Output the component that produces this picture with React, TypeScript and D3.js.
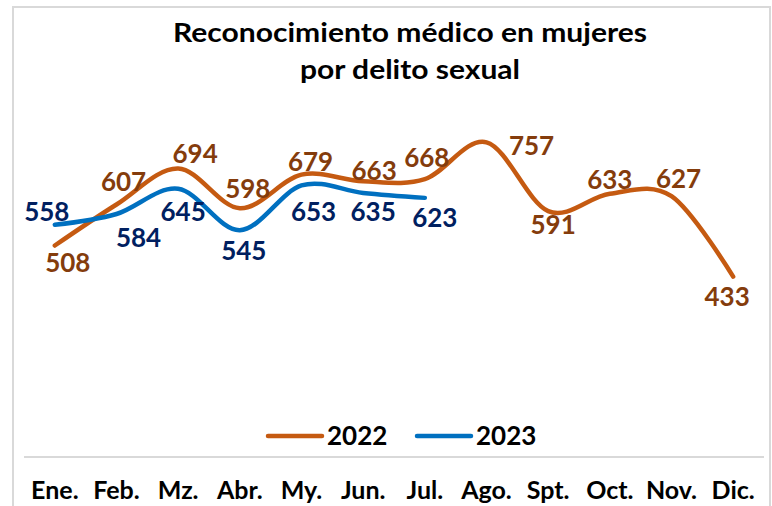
import React from "react";
import * as d3 from "d3";

const months = ["Ene.", "Feb.", "Mz.", "Abr.", "My.", "Jun.", "Jul.", "Ago.", "Spt.", "Oct.", "Nov.", "Dic."];
const values2022 = [508, 607, 694, 598, 679, 663, 668, 757, 591, 633, 627, 433];
const values2023 = [558, 584, 645, 545, 653, 635, 623];
const seriesNames = ["2022", "2023"];
const titleLines = ["Reconocimiento médico en mujeres", "por delito sexual"];

// label nudges (style)
const off2022 = [[13, 17], [7, -23], [17, -15], [8, -20], [9, -13], [11, -11], [2, -22], [45, 3], [5, 14], [0, -14], [7, -18], [-6, 20]];
const off2023 = [[-8, -13], [22, 24], [5, 23], [4, 20], [12, 26], [10, 19], [10, 20]];

const W = 772, H = 506;
const FONT = "Lato, 'Open Sans', sans-serif";

export default function App() {
  const x = d3.scaleBand<string>().domain(months).range([24, 764]);
  const cx = (i: number) => (x(months[i]) as number) + x.bandwidth() / 2;
  const y = d3.scaleLinear().domain([0, 900]).range([456, 83.1]);
  const line = d3.line<number>().x((_, i) => cx(i)).y((d) => y(d)).curve(d3.curveCardinal.tension(0));

  const series = [
    { name: seriesNames[0], data: values2022, color: "#C55A11", label: "#843C0C", off: off2022 },
    { name: seriesNames[1], data: values2023, color: "#0070C0", label: "#002060", off: off2023 },
  ];
  const fs = 26;
  const titleLens = [474, 220];
  return (
    <svg width={W} height={H} style={{ position: "absolute", left: 0, top: 0, display: "block" }} fontFamily={FONT}>
      <rect x={0} y={0} width={W} height={H} fill="#fff" />
      <rect x={13} y={7} width={757} height={520} fill="#fff" stroke="#D9D9D9" strokeWidth={2} />
      {titleLines.map((t, i) => (
        <text key={t} x={410} y={42 + i * 37} textAnchor="middle" fontSize={27} fontWeight="bold" fill="#000"
          textLength={titleLens[i]} lengthAdjust="spacingAndGlyphs">{t}</text>
      ))}
      <line x1={24} x2={764} y1={y(0) + 1} y2={y(0) + 1} stroke="#D9D9D9" strokeWidth={2} />
      {months.map((m, i) => (
        <text key={m} x={cx(i)} y={499} textAnchor="middle" fontSize={25} fontWeight="bold" fill="#000">{m}</text>
      ))}
      {series.map((s) => (
        <path key={s.name} d={line(s.data) || ""} fill="none" stroke={s.color} strokeWidth={4.5} strokeLinecap="round" />
      ))}
      {series.map((s) =>
        s.data.map((v, i) => (
          <text key={s.name + i} x={cx(i) + s.off[i][0]} y={y(v) + s.off[i][1] + fs * 0.36} textAnchor="middle" fontSize={fs} fontWeight="bold" fill={s.label}>{v}</text>
        ))
      )}
      {series.map((s, k) => {
        const lx = k === 0 ? 268 : 417;
        return (
          <g key={"lg" + s.name}>
            <line x1={lx} x2={lx + 54} y1={436} y2={436} stroke={s.color} strokeWidth={4.5} strokeLinecap="round" />
            <text x={lx + 59} y={436 + 26 * 0.36} fontSize={26} fontWeight="bold" fill="#000">{s.name}</text>
          </g>
        );
      })}
    </svg>
  );
}
